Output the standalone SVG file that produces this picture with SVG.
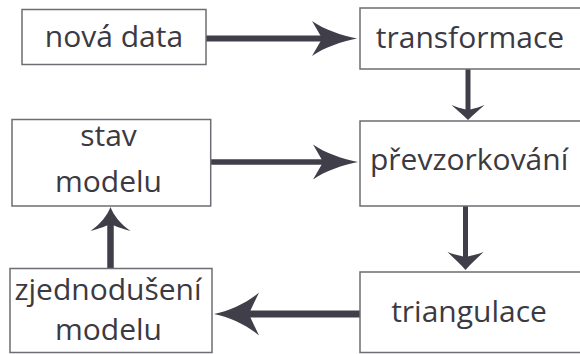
<svg xmlns="http://www.w3.org/2000/svg" width="580" height="354" viewBox="0 0 580 354">
<style>
.box{fill:#fff;stroke:#6e6d73;stroke-width:1.5}
.t{font-family:"Open Sans","Noto Sans",sans-serif;font-size:30px;fill:#3b3a42}
.c{text-anchor:middle}
.ln{fill:none;stroke:#403e48}
.hd{fill:#403e48}
</style>
<defs>
<marker id="hA" markerUnits="userSpaceOnUse" orient="auto" markerWidth="50" markerHeight="50" viewBox="0 -25 50 50" refX="10" refY="0" overflow="visible">
<path class="hd" d="M45,0 C30,-3 12,-9 0,-17.5 C5,-9 8,-4 10,0 C8,4 5,9 0,17.5 C12,9 30,3 45,0 Z"/>
</marker>
<marker id="hB" markerUnits="userSpaceOnUse" orient="auto" markerWidth="50" markerHeight="50" viewBox="0 -25 50 50" refX="10" refY="0" overflow="visible">
<path class="hd" d="M45,0 C30,-3 12,-11 0,-21.5 C5,-11 8,-5 10,0 C8,5 5,11 0,21.5 C12,11 30,3 45,0 Z"/>
</marker>
<marker id="hU" markerUnits="userSpaceOnUse" orient="auto" markerWidth="50" markerHeight="50" viewBox="0 -25 50 50" refX="7" refY="0" overflow="visible">
<path class="hd" d="M24,0 C16,-3 7,-10 0,-20 C3,-10 5,-4 7,0 C5,4 3,10 0,20 C7,10 16,3 24,0 Z"/>
</marker>
<marker id="hS" markerUnits="userSpaceOnUse" orient="auto" markerWidth="40" markerHeight="40" viewBox="0 -20 40 40" refX="5" refY="0" overflow="visible">
<path class="hd" d="M15,0 C10,-5 5,-11 0,-16.5 C3,-9 4,-4 5,0 C4,4 3,9 0,16.5 C5,11 10,5 15,0 Z"/>
</marker>
<marker id="hT" markerUnits="userSpaceOnUse" orient="auto" markerWidth="40" markerHeight="40" viewBox="0 -20 40 40" refX="5" refY="0" overflow="visible">
<path class="hd" d="M18,0 C12,-5 6,-12 0,-18 C3,-10 4,-4 5,0 C4,4 3,10 0,18 C6,12 12,5 18,0 Z"/>
</marker>
</defs>
<g id="connectors">
<path class="ln" stroke-width="6" d="M206,38.5 H322" marker-end="url(#hA)"/>
<path class="ln" stroke-width="5" d="M468,69 V110" marker-end="url(#hS)"/>
<path class="ln" stroke-width="5.5" d="M210.7,162 H323" marker-end="url(#hA)"/>
<path class="ln" stroke-width="5" d="M465.5,206 V257" marker-end="url(#hT)"/>
<path class="ln" stroke-width="7" d="M360,314 H249" marker-end="url(#hB)"/>
<path class="ln" stroke-width="6.5" d="M110.5,268 V224" marker-end="url(#hU)"/>
</g>
<g id="nova-data">
<rect class="box" x="22" y="9.5" width="184" height="55"/>
<text class="t c" x="114" y="47">nová data</text>
</g>
<g id="transformace">
<rect class="box" x="360" y="8" width="230" height="61"/>
<text class="t c" x="470" y="48">transformace</text>
</g>
<g id="stav-modelu">
<rect class="box" x="12" y="119.5" width="198.7" height="86.5"/>
<text class="t c" x="108.5" y="146">stav</text>
<text class="t c" x="108.5" y="192">modelu</text>
</g>
<g id="prevzorkovani">
<rect class="box" x="360" y="121" width="230" height="85"/>
<text class="t" x="370" y="170">převzorkování</text>
</g>
<g id="triangulace">
<rect class="box" x="360" y="272" width="230" height="80.5"/>
<text class="t c" x="469" y="322">triangulace</text>
</g>
<g id="zjednoduseni-modelu">
<rect class="box" x="10" y="268.5" width="202" height="84"/>
<text class="t c" x="108" y="300">zjednodušení</text>
<text class="t c" x="108.5" y="340">modelu</text>
</g>
</svg>
